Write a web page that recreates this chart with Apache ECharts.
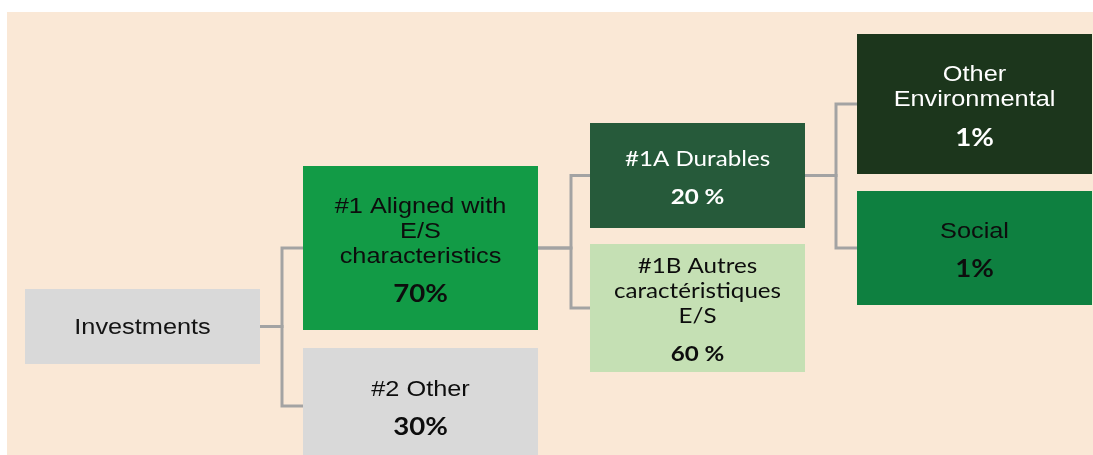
<!DOCTYPE html>
<html lang="en">
<head>
    <meta charset="UTF-8">
    <script src="https://cdn.jsdelivr.net/npm/echarts@6/dist/echarts.min.js"></script>
    <title>Investments - E/S characteristics</title>
    <style>
        html, body {
            margin: 0;
            padding: 0;
            background: #fff;
        }

        #main {
            width: 1093px;
            height: 455px;
        }
    </style>
</head>

<body>
<div id="main"></div>

<script>
    // the tree: names, shares and parent of each node
    var nodeNames = ['Investments', '#1 Aligned with\nE/S\ncharacteristics', '#2 Other', '#1A Durables',
        '#1B Autres\ncaractéristiques\nE/S', 'Other\nEnvironmental', 'Social'];
    var nodeShares = ['', '70%', '30%', '20 %', '60 %', '1%', '1%'];
    var nodeParents = [-1, 0, 0, 1, 1, 3, 3];

    // layout of the boxes, in axis units (x0, y0, x1, y1)
    var boxRects = [
        [25, 289, 260, 364],
        [303, 166, 538, 330],
        [303, 348, 538, 464],
        [590, 123, 805, 228],
        [590, 244, 805, 372],
        [857, 34, 1092, 174],
        [857, 191, 1092, 305]
    ];
    // x of the vertical connector, per parent
    var elbowX = {0: 282, 1: 571, 3: 836};

    var boxColors = ['#D9D9D9', '#129B46', '#D9D9D9', '#265A3A', '#C5E0B4', '#1C361C', '#0E8040'];
    var textColors = ['#141414', '#0d0d0d', '#0d0d0d', '#ffffff', '#0d0d0d', '#ffffff', '#0d0d0d'];
    var textFonts = ['Liberation Sans', 'Liberation Sans', 'Liberation Sans', 'Lato', 'Lato', 'Liberation Sans', 'Liberation Sans'];

    var myChart = echarts.init(document.getElementById('main'));

    function midY(r) {
        return (r[1] + r[3]) / 2;
    }

    function renderLink(params, api) {
        var child = api.value(0);
        var parent = nodeParents[child];
        var pr = boxRects[parent];
        var cr = boxRects[child];
        var ex = elbowX[parent];
        var pts = [
            api.coord([pr[2], midY(pr)]),
            api.coord([ex, midY(pr)]),
            api.coord([ex, midY(cr)]),
            api.coord([cr[0], midY(cr)])
        ];
        return {
            type: 'polyline',
            shape: {points: pts},
            style: {stroke: '#A3A3A3', lineWidth: 3, fill: 'none'}
        };
    }

    function renderBox(params, api) {
        var i = api.value(0);
        var r = boxRects[i];
        var p0 = api.coord([r[0], r[1]]);
        var p1 = api.coord([r[2], r[3]]);
        var font = textFonts[i];
        var lato = font === 'Lato';
        var share = nodeShares[i];

        var text = nodeNames[i].split('\n').map(function (l) {
            return '{n|' + l + '}';
        }).join('\n');
        if (share) {
            text += '\n{p|' + share + '}';
        }

        return {
            type: 'group',
            children: [
                {
                    type: 'rect',
                    shape: {x: p0[0], y: p0[1], width: p1[0] - p0[0], height: p1[1] - p0[1]},
                    style: {fill: boxColors[i]}
                },
                {
                    type: 'text',
                    x: (p0[0] + p1[0]) / 2,
                    y: (p0[1] + p1[1]) / 2 + (share ? 9 : 1),
                    scaleX: 1.15,
                    style: {
                        text: text,
                        align: 'center',
                        verticalAlign: 'middle',
                        rich: {
                            n: {
                                fill: textColors[i],
                                fontFamily: font,
                                fontSize: lato ? 21 : 22,
                                lineHeight: 25
                            },
                            p: {
                                fill: textColors[i],
                                fontFamily: 'Lato',
                                fontWeight: 'bold',
                                fontSize: lato ? 21 : 24,
                                lineHeight: 51
                            }
                        }
                    }
                }
            ]
        };
    }

    var linkData = [];
    for (var c = 0; c < nodeParents.length; c++) {
        if (nodeParents[c] >= 0) {
            linkData.push([c]);
        }
    }
    var boxData = [];
    for (var j = 0; j < nodeNames.length; j++) {
        boxData.push([j]);
    }

    var option = {
        backgroundColor: '#ffffff',
        animation: false,
        grid: {
            left: 7,
            top: 12,
            right: 0,
            bottom: 0,
            show: true,
            backgroundColor: '#FAE8D6',
            borderWidth: 0
        },
        xAxis: {type: 'value', min: 7, max: 1093, show: false},
        yAxis: {type: 'value', min: 12, max: 455, inverse: true, show: false},
        series: [
            {
                type: 'custom',
                z: 1,
                renderItem: renderLink,
                data: linkData
            },
            {
                type: 'custom',
                z: 2,
                renderItem: renderBox,
                data: boxData
            }
        ]
    };

    myChart.setOption(option);
</script>

</body>

</html>
